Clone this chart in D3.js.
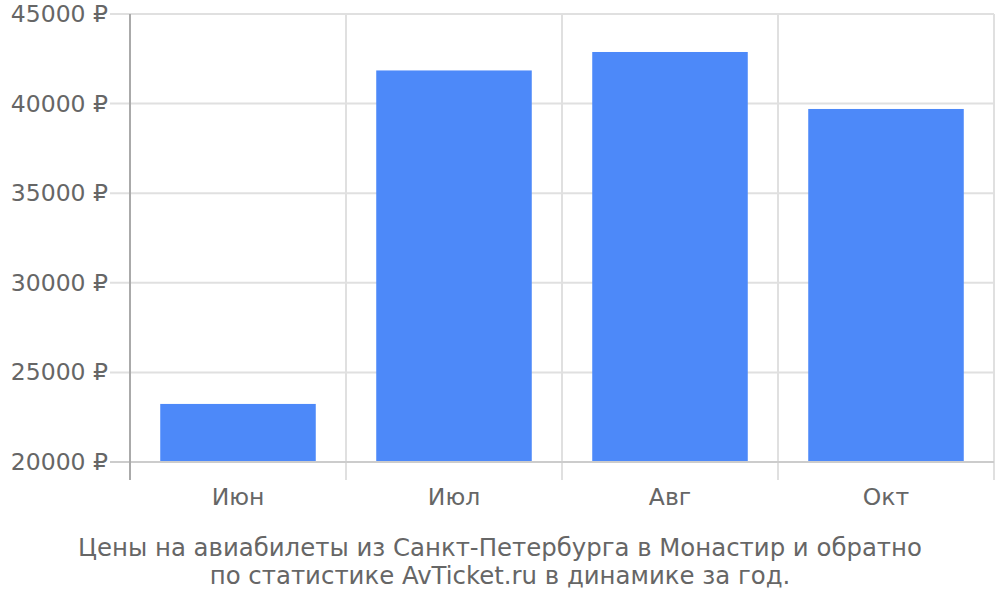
<!DOCTYPE html>
<html><head><meta charset="utf-8">
<script src="https://cdn.jsdelivr.net/npm/d3@7"></script>
<style>body{margin:0;background:#fff}text{font-family:"DejaVu Sans",sans-serif;fill:#666}</style>
</head><body><svg id="c" width="1000" height="600"></svg>
<script>
const categories = ["Июн", "Июл", "Авг", "Окт"];
const prices = [23240, 41850, 42880, 39700];
const yTicks = [20000, 25000, 30000, 35000, 40000, 45000];
const titleLines = ["Цены на авиабилеты из Санкт-Петербурга в Монастир и обратно", "по статистике AvTicket.ru в динамике за год."];

const svg = d3.select("#c");
const L = 130, R = 994, T = 14, B = 462;
const x = d3.scaleBand().domain(categories).range([L, R]).paddingInner(0.28).paddingOuter(0.14);
const y = d3.scaleLinear().domain([20000, 45000]).range([B, T]);

// horizontal grid
svg.append("g").selectAll("line").data(yTicks).join("line")
  .attr("x1", 110).attr("x2", R).attr("y1", d => y(d)).attr("y2", d => y(d))
  .attr("stroke", d => d === 20000 ? "#ccc" : "#e0e0e0").attr("stroke-width", 2);
// vertical grid
const bounds = categories.map((c, i) => L + i * x.step()).concat([R]);
svg.append("g").selectAll("line").data(bounds.slice(1)).join("line")
  .attr("x1", d => d).attr("x2", d => d).attr("y1", T).attr("y2", 480)
  .attr("stroke", "#e0e0e0").attr("stroke-width", 2);

// bars
svg.append("g").selectAll("rect").data(prices).join("rect")
  .attr("x", (d, i) => x(categories[i])).attr("width", x.bandwidth())
  .attr("y", d => y(d)).attr("height", d => B - y(d))
  .attr("fill", "#4d89f9");

// baseline
svg.append("line").attr("x1", 110).attr("x2", R).attr("y1", B).attr("y2", B).attr("stroke", "#ccc").attr("stroke-width", 2);
// y axis line
svg.append("line").attr("x1", L).attr("x2", L).attr("y1", T).attr("y2", 480).attr("stroke", "#aaa").attr("stroke-width", 2);

// y labels
svg.append("g").selectAll("text").data(yTicks).join("text")
  .attr("x", 108).attr("y", d => y(d) + 8).attr("text-anchor", "end").attr("font-size", 23.5)
  .text(d => d + " ₽");
// x labels
svg.append("g").selectAll("text").data(categories).join("text")
  .attr("x", d => x(d) + x.bandwidth() / 2).attr("y", 505).attr("text-anchor", "middle").attr("font-size", 23.5)
  .text(d => d);
// title
svg.append("g").selectAll("text").data(titleLines).join("text")
  .attr("x", 500).attr("y", (d, i) => 556 + i * 28).attr("text-anchor", "middle").attr("font-size", 24.4)
  .text(d => d);
</script></body></html>
